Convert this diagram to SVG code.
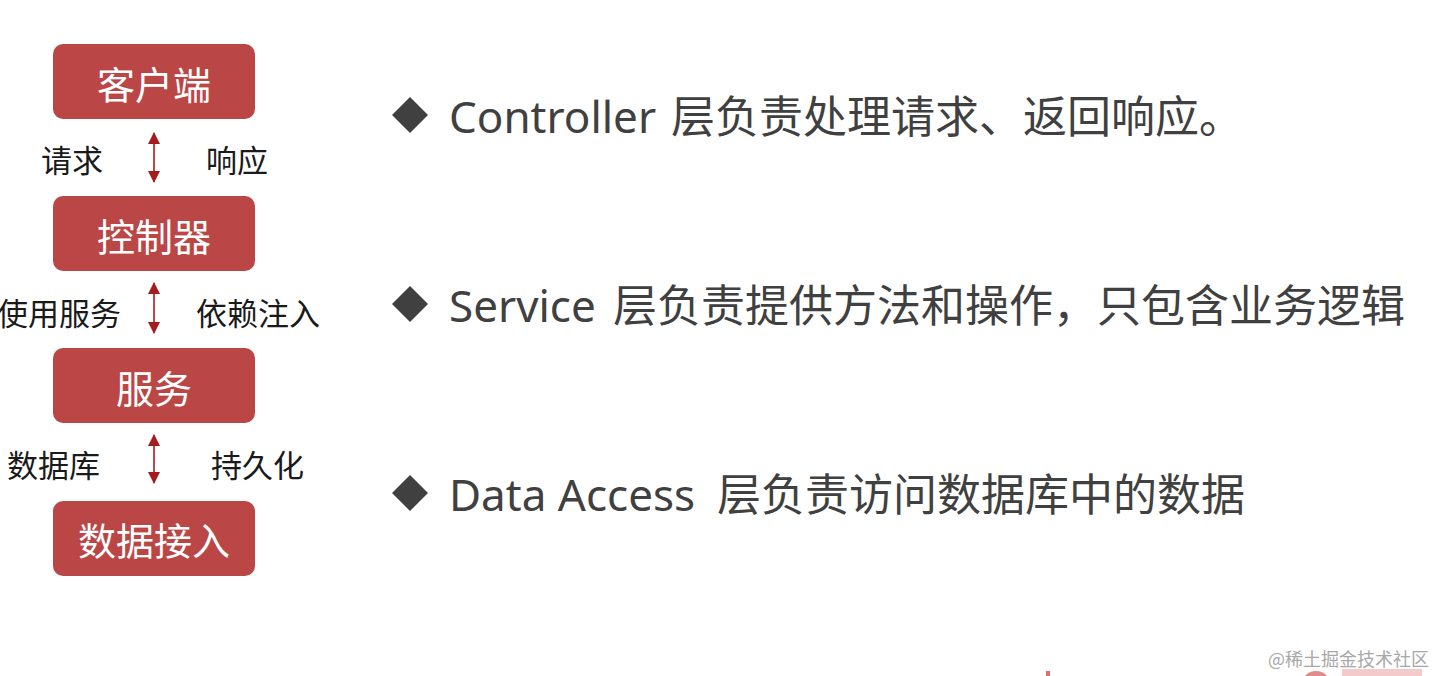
<svg xmlns="http://www.w3.org/2000/svg" width="1433" height="676" viewBox="0 0 1433 676">
<style>
.box{fill:#bb4646;}
.bt{font-family:"Noto Sans CJK SC","Noto Sans",sans-serif;font-size:38px;fill:#ffffff;text-anchor:middle;}
.lbl{font-family:"Noto Sans CJK SC","Noto Sans",sans-serif;font-size:31px;fill:#1a1a1a;}
.main{font-family:"Noto Sans","Noto Sans CJK SC",sans-serif;font-size:44px;fill:#404040;}
.cjk{font-family:"Noto Sans CJK SC",sans-serif;}
.con{stroke:#a51c1c;stroke-width:1.6;fill:none;marker-start:url(#ah);marker-end:url(#ah);}
.dia{fill:#404040;}
.wm{font-family:"Noto Sans CJK SC",serif;font-size:18px;fill:#a8a8a8;}
</style>
<defs>
<marker id="ah" viewBox="0 0 12 12" refX="11" refY="6" markerWidth="12" markerHeight="12" markerUnits="userSpaceOnUse" orient="auto-start-reverse">
<path d="M0,0 L12,6 L0,12 Z" fill="#a51c1c"/>
</marker>
</defs>
<rect width="1433" height="676" fill="#ffffff"/>

<g id="node-client">
<rect class="box" x="53" y="44" width="202" height="75" rx="10"/>
<text class="bt" x="154" y="99">客户端</text>
</g>
<g id="node-controller">
<rect class="box" x="53" y="196" width="202" height="75" rx="10"/>
<text class="bt" x="154" y="251">控制器</text>
</g>
<g id="node-service">
<rect class="box" x="53" y="348" width="202" height="75" rx="10"/>
<text class="bt" x="154" y="403">服务</text>
</g>
<g id="node-data">
<rect class="box" x="53" y="501" width="202" height="75" rx="10"/>
<text class="bt" x="154" y="555">数据接入</text>
</g>

<g id="connectors">
<line class="con" x1="154" y1="133" x2="154" y2="182"/>
<line class="con" x1="154" y1="283" x2="154" y2="333"/>
<line class="con" x1="154" y1="435" x2="154" y2="483"/>
<text class="lbl" x="41" y="172">请求</text>
<text class="lbl" x="206" y="172">响应</text>
<text class="lbl" x="-3" y="325">使用服务</text>
<text class="lbl" x="196" y="325">依赖注入</text>
<text class="lbl" x="7" y="477">数据库</text>
<text class="lbl" x="211" y="477">持久化</text>
</g>

<g id="bullet-1">
<polygon class="dia" points="410,97 428,115 410,133 392,115"/>
<text class="main" y="133"><tspan x="449">Controller</tspan><tspan class="cjk" x="671">层负责处理请求、返回响应。</tspan></text>
</g>
<g id="bullet-2">
<polygon class="dia" points="410,286 428,304 410,322 392,304"/>
<text class="main" y="322"><tspan x="449">Service</tspan><tspan class="cjk" x="613">层负责提供方法和操作，只包含业务逻辑</tspan></text>
</g>
<g id="bullet-3">
<polygon class="dia" points="410,475 428,493 410,511 392,493"/>
<text class="main" y="511"><tspan x="449">Data Access</tspan><tspan class="cjk" x="717">层负责访问数据库中的数据</tspan></text>
</g>

<g id="watermark">
<text class="wm" x="1268" y="666">@稀土掘金技术社区</text>
<rect x="1046" y="671" width="4" height="5" fill="#e07070"/>
<circle cx="1316" cy="686" r="15" fill="#e58a8a"/>
<rect x="1342" y="669" width="80" height="7" fill="#f0b4b4" opacity="0.7"/>
</g>
</svg>
